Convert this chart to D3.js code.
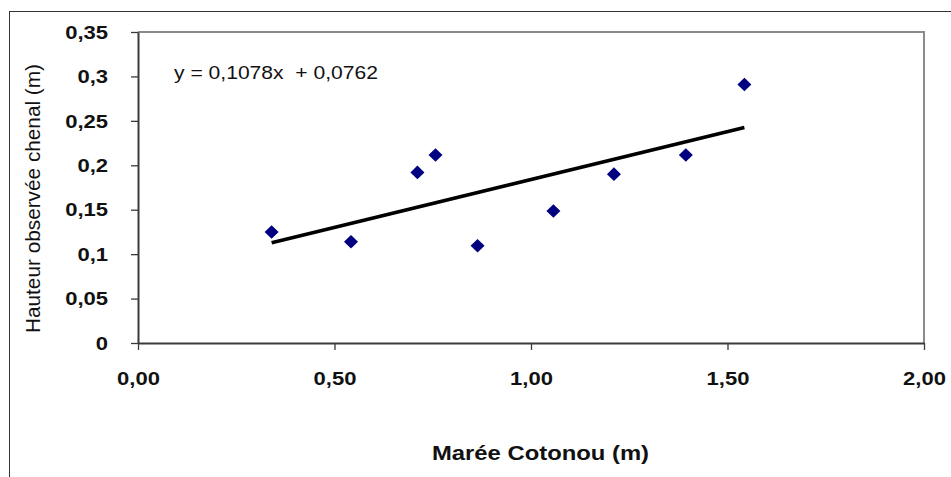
<!DOCTYPE html>
<html>
<head>
<meta charset="utf-8">
<script src="https://cdn.jsdelivr.net/npm/d3@7"></script>
<style>
  body { margin: 0; background: #fff; }
  svg { display: block; font-family: Arial, "Liberation Sans", sans-serif; }
</style>
</head>
<body>
<script>
// data
const maree = [0.340, 0.542, 0.711, 0.757, 0.864, 1.057, 1.211, 1.394, 1.543];
const hauteur = [0.125, 0.114, 0.192, 0.2116, 0.1095, 0.1485, 0.190, 0.2116, 0.291];
const slope = 0.1078, intercept = 0.0762;
const xTicks = [0, 0.5, 1, 1.5, 2];
const yTicks = [0, 0.05, 0.1, 0.15, 0.2, 0.25, 0.3, 0.35];
const equationLabel = "y = 0,1078x  + 0,0762";
const xTitle = "Marée Cotonou (m)";
const yTitle = "Hauteur observée chenal (m)";

const width = 951, height = 477;
const plotLeft = 138, plotRight = 924, plotTop = 32, plotBottom = 343;
const stretch = 1.16; // the original text is a bit wider than Arial

const svg = d3.select("body").append("svg")
    .attr("width", width)
    .attr("height", height);

// outer chart border (cut off on the right and bottom)
svg.append("rect")
    .attr("x", 9.5).attr("y", 11.5)
    .attr("width", 980).attr("height", 500)
    .attr("fill", "#fff")
    .attr("stroke", "#333")
    .attr("stroke-width", 1);

const x = d3.scaleLinear().domain([0, 2]).range([plotLeft, plotRight]);
const y = d3.scaleLinear().domain([0, 0.35]).range([plotBottom, plotTop]);

// plot area frame, top and right in grey
svg.append("path")
    .attr("d", "M" + plotLeft + "," + plotTop + "H" + plotRight + "V" + plotBottom)
    .attr("fill", "none")
    .attr("stroke", "#8a8a8a")
    .attr("stroke-width", 2);

const xAxis = svg.append("g")
    .attr("transform", "translate(0," + plotBottom + ")")
    .call(d3.axisBottom(x).tickValues(xTicks).tickSize(7).tickSizeOuter(0)
        .tickFormat(function(d) { return d3.format(".2f")(d).replace(".", ","); }));

const yAxis = svg.append("g")
    .attr("transform", "translate(" + plotLeft + ",0)")
    .call(d3.axisLeft(y).tickValues(yTicks).tickSize(7).tickSizeOuter(0)
        .tickFormat(function(d) { return String(+d.toFixed(2)).replace(".", ","); }));

[xAxis, yAxis].forEach(function(a) {
    a.attr("font-family", null).attr("font-size", null);
    a.select(".domain").attr("stroke", "#3a3a3a").attr("stroke-width", 2);
    a.selectAll(".tick line").attr("stroke", "#3a3a3a").attr("stroke-width", 1.3);
    a.selectAll(".tick text")
        .attr("fill", "#111")
        .style("font-size", "19px")
        .style("font-weight", "bold");
});

xAxis.selectAll(".tick text")
    .attr("y", 42).attr("dy", null)
    .attr("transform", "scale(" + stretch + ",1)");

yAxis.selectAll(".tick text")
    .attr("x", -30 / stretch).attr("dy", "0.33em")
    .attr("transform", "scale(" + stretch + ",1)");

// trend line across the data range
const lineFn = d3.line()
    .x(function(d) { return x(d); })
    .y(function(d) { return y(slope * d + intercept); });

svg.append("path")
    .attr("d", lineFn(d3.extent(maree)))
    .attr("fill", "none")
    .attr("stroke", "#000")
    .attr("stroke-width", 3.6);

// diamonds
const pts = maree.map(function(v, i) { return {x: v, y: hauteur[i]}; });
svg.append("g").selectAll("path")
    .data(pts)
    .enter().append("path")
    .attr("transform", function(d) { return "translate(" + x(d.x) + "," + y(d.y) + ")"; })
    .attr("d", "M0,-6.8L7,0L0,6.8L-7,0Z")
    .attr("fill", "#000080");

// equation
svg.append("text")
    .attr("x", 174).attr("y", 79)
    .attr("textLength", 204)
    .attr("lengthAdjust", "spacingAndGlyphs")
    .style("font-size", "19px")
    .style("white-space", "pre")
    .attr("fill", "#111")
    .text(equationLabel);

// axis titles
svg.append("text")
    .attr("x", 432).attr("y", 460)
    .attr("textLength", 217)
    .attr("lengthAdjust", "spacingAndGlyphs")
    .style("font-size", "20.5px")
    .style("font-weight", "bold")
    .attr("fill", "#111")
    .text(xTitle);

svg.append("text")
    .attr("transform", "translate(40,198.5) rotate(-90)")
    .attr("text-anchor", "middle")
    .attr("textLength", 269)
    .attr("lengthAdjust", "spacingAndGlyphs")
    .style("font-size", "20px")
    .attr("fill", "#111")
    .text(yTitle);
</script>
</body>
</html>
